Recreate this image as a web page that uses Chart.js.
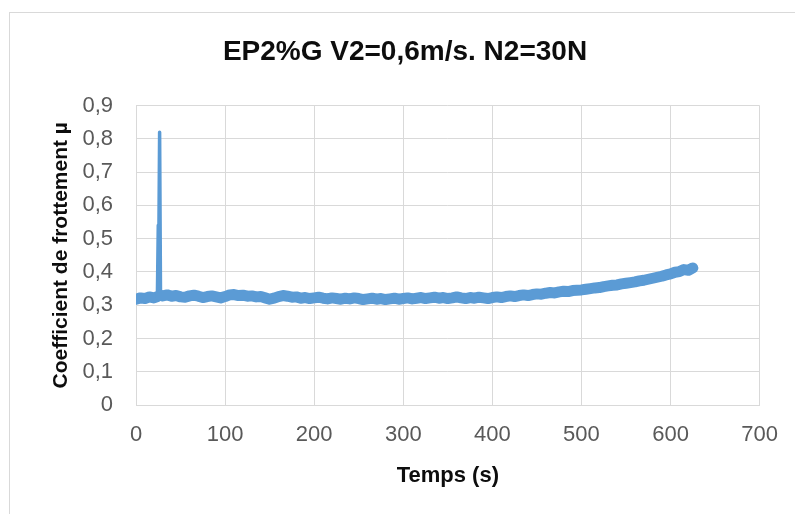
<!DOCTYPE html>
<html>
<head>
<meta charset="utf-8">
<script src="https://cdn.jsdelivr.net/npm/chart.js@4"></script>
<style>
  html, body { margin: 0; padding: 0; background: #fff; }
  #wrap { width: 795px; height: 514px; position: relative; }
</style>
</head>
<body>
<div id="wrap"><canvas id="grafica" width="795" height="514"></canvas></div>
<script>
// --- DONNÉES ---
const temps = [0, 5, 10, 15, 20, 24, 25, 25.5, 26.5, 27.5,
  30, 35, 40, 45, 50, 55, 60, 65, 70, 75, 80, 85, 90, 95,
  100, 105, 110, 115, 120, 125, 130, 135, 140, 145, 150, 155, 160, 165, 170, 175, 180, 185, 190, 195,
  200, 205, 210, 215, 220, 225, 230, 235, 240, 245, 250, 255, 260, 265, 270, 275, 280, 285, 290, 295,
  300, 305, 310, 315, 320, 325, 330, 335, 340, 345, 350, 355, 360, 365, 370, 375, 380, 385, 390, 395,
  400, 405, 410, 415, 420, 425, 430, 435, 440, 445, 450, 455, 460, 465, 470, 475, 480, 485, 490, 495,
  500, 505, 510, 515, 520, 525, 530, 535, 540, 545, 550, 555, 560, 565, 570, 575, 580, 585, 590, 595,
  600, 605, 610, 615, 620, 625];
const mu = [0.318, 0.322, 0.320, 0.325, 0.322, 0.326, 0.54, 0.44, 0.82, 0.33,
  0.328, 0.331, 0.327, 0.329, 0.325, 0.324, 0.328, 0.330, 0.327, 0.323, 0.326, 0.328, 0.325, 0.322,
  0.326, 0.331, 0.332, 0.329, 0.330, 0.327, 0.328, 0.325, 0.326, 0.322, 0.318, 0.321, 0.326, 0.329, 0.327, 0.324, 0.325, 0.321, 0.323, 0.320,
  0.322, 0.324, 0.321, 0.319, 0.322, 0.320, 0.318, 0.321, 0.319, 0.322, 0.320, 0.317, 0.319, 0.321, 0.318, 0.320, 0.317, 0.319, 0.321, 0.318,
  0.320, 0.322, 0.319, 0.321, 0.323, 0.320, 0.322, 0.324, 0.321, 0.323, 0.320, 0.322, 0.325, 0.322, 0.320, 0.323, 0.321, 0.324, 0.322, 0.320,
  0.323, 0.325, 0.323, 0.326, 0.328, 0.326, 0.329, 0.331, 0.329, 0.332, 0.334, 0.333, 0.336, 0.338, 0.337, 0.340, 0.342, 0.341, 0.344, 0.345,
  0.346, 0.348, 0.350, 0.352, 0.353, 0.356, 0.358, 0.360, 0.361, 0.364, 0.366, 0.368, 0.370, 0.373, 0.375, 0.378, 0.381, 0.384, 0.387, 0.391,
  0.394, 0.399, 0.401, 0.407, 0.405, 0.412];
const ticksX = [0, 100, 200, 300, 400, 500, 600, 700];
const ticksY = [0, 0.1, 0.2, 0.3, 0.4, 0.5, 0.6, 0.7, 0.8, 0.9];

const titre = 'EP2%G V2=0,6m/s. N2=30N';
const titreX = 'Temps (s)';
const titreY = 'Coefficient de frottement µ';

// cadre gris autour du graphique (comme Excel)
const cadre = {
  id: 'cadre',
  beforeDraw(chart) {
    const c = chart.ctx;
    c.save();
    c.strokeStyle = '#d9d9d9';
    c.lineWidth = 1;
    c.strokeRect(9.5, 12.5, 1000, 1000);
    c.restore();
  }
};

const police = "'Liberation Sans', Arial, sans-serif";

// le pic est tracé plus fin que la bande bruitée
const estPic = c => c.p0.parsed.x >= 24 && c.p1.parsed.x <= 27.5;

new Chart(document.getElementById('grafica'), {
  type: 'line',
  data: {
    datasets: [{
      data: temps.map((t, i) => ({ x: t, y: mu[i] })),
      borderColor: '#5b9bd5',
      borderWidth: 11,
      pointRadius: 0,
      tension: 0,
      borderJoinStyle: 'round',
      borderCapStyle: 'round',
      segment: { borderWidth: c => estPic(c) ? 3.5 : 11 }
    }]
  },
  options: {
    responsive: false,
    animation: false,
    layout: { padding: { left: 49, right: 34, top: 0, bottom: 0 } },
    plugins: {
      legend: { display: false },
      tooltip: { enabled: false },
      title: {
        display: true, text: titre, color: '#0d0d0d',
        font: { family: police, size: 28, weight: 'bold' },
        padding: { top: 35, bottom: 37 }
      }
    },
    scales: {
      x: {
        type: 'linear', min: 0, max: 700,
        afterBuildTicks: s => { s.ticks = ticksX.map(v => ({ value: v })); },
        afterFit: s => { s.height = 109; },
        grid: { color: '#d9d9d9', drawTicks: false },
        border: { color: '#d9d9d9' },
        ticks: { color: '#595959', padding: 17, maxRotation: 0, font: { family: police, size: 22 } },
        title: { display: true, text: titreX, color: '#0d0d0d', padding: { top: 0, bottom: 25 },
          font: { family: police, size: 22, weight: 'bold' } }
      },
      y: {
        min: 0, max: 0.9,
        afterBuildTicks: s => { s.ticks = ticksY.map(v => ({ value: v })); },
        afterFit: s => { s.width = 87; },
        grid: { color: '#d9d9d9', drawTicks: false },
        border: { display: false },
        ticks: {
          color: '#595959', padding: 23, font: { family: police, size: 22 },
          callback: v => v === 0 ? '0' : v.toFixed(1).replace('.', ',')
        },
        title: { display: true, text: titreY, color: '#0d0d0d', padding: { top: 0, bottom: 0 },
          font: { family: police, size: 21, weight: 'bold' } }
      }
    }
  },
  plugins: [cadre]
});
</script>
</body>
</html>
